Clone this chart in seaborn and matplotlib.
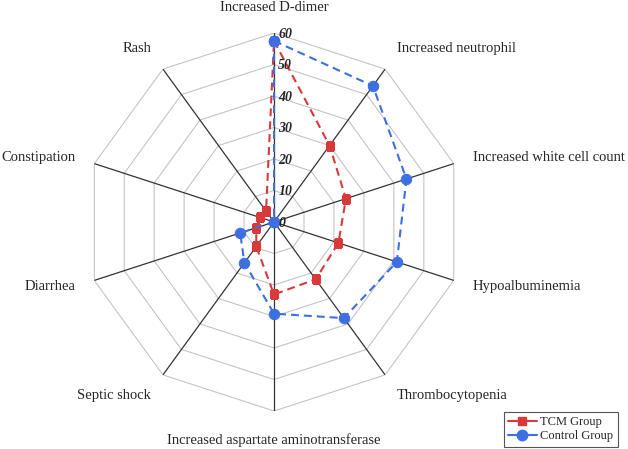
#!/usr/bin/env python3
# -*- coding: utf-8 -*-
"""
Radar chart: adverse findings, TCM group vs control group
"""

#%% Modulos
import numpy as np
import matplotlib
matplotlib.use("Agg")
import matplotlib.pyplot as plt
from matplotlib.lines import Line2D
import seaborn as sb

#%% Dados
categorias = ["Increased D-dimer", "Increased neutrophil",
              "Increased white cell count", "Hypoalbuminemia",
              "Thrombocytopenia", "Increased aspartate aminotransferase",
              "Septic shock", "Diarrhea", "Constipation", "Rash"]

tcm = [57.5, 30, 24, 21.5, 22.5, 23, 9.6, 5.9, 4.8, 4.3]
controle = [57.5, 53.4, 44.2, 41, 37.7, 29.1, 16, 11.3, 0, 0]

niveis = [0, 10, 20, 30, 40, 50, 60]
series = ["TCM Group", "Control Group"]

#%% Estilo
sb.set_style("white")
plt.rcParams['font.family'] = ['Liberation Serif', 'DejaVu Serif']

cor_tcm = "#d83a3a"
cor_ctl = "#3d6fe0"
tracejado = (0, (3.8, 2.4))

n = len(categorias)
ang = np.linspace(0, 2 * np.pi, n, endpoint=False)
ang_f = np.append(ang, 2 * np.pi)

fig = plt.figure(figsize=(6.28, 4.49), dpi=100)
ax = fig.add_axes([0.1354, 0.0846, 0.6019, 0.8419], projection="polar")
ax.set_theta_zero_location("N")
ax.set_theta_direction(-1)
ax.set_ylim(0, 60)
ax.grid(False)
ax.spines["polar"].set_visible(False)

#%% Grade poligonal e eixos radiais
for r in niveis[1:]:
    ax.plot(ang_f, [r] * (n + 1), color="#c4c4c4", lw=0.8, zorder=1)
for a in ang:
    ax.plot([a, a], [0, 60], color="#333333", lw=0.9, zorder=1.5)

#%% Series
sb.lineplot(x=ang_f, y=tcm + tcm[:1], ax=ax, sort=False,
            color=cor_tcm, linestyle=tracejado, lw=1.5,
            marker="s", markersize=5.5, markeredgecolor=cor_tcm, zorder=3)
sb.lineplot(x=ang_f, y=controle + controle[:1], ax=ax, sort=False,
            color=cor_ctl, linestyle=tracejado, lw=1.5,
            marker="o", markersize=7.5, markeredgecolor=cor_ctl, zorder=4)
ax.set_xlabel("")
ax.set_ylabel("")
ax.set_xticks([])
ax.set_yticks([])

#%% Rotulos da escala
for v in niveis:
    ax.annotate(str(v), xy=(0, v), xytext=(3, -1), textcoords="offset points",
                ha="left", va="center", fontsize=10,
                fontweight="bold", fontstyle="italic", zorder=5)

#%% Rotulos das categorias
for a, c in zip(ang, categorias):
    s, co = np.sin(a), np.cos(a)
    if abs(s) < 1e-6:
        ha = "center"
        r = 68 if co > 0 else 69.2
        dy = 0
    else:
        ha = "left" if s > 0 else "right"
        r = 66.3
        # rotulos a 36 graus ficam um pouco mais afastados na vertical
        dy = 3 * np.sign(co) if abs(co) > 0.5 else 0
    ax.annotate(c, xy=(a, r), xytext=(0, dy), textcoords="offset points",
                ha=ha, va="center", fontsize=10.5, annotation_clip=False)

#%% Legenda
handles = [Line2D([], [], color=cor_tcm, lw=1.5, marker="s", markersize=5.5),
           Line2D([], [], color=cor_ctl, lw=1.5, marker="o", markersize=7.5)]
leg = fig.legend(handles, series, loc="lower right",
                 bbox_to_anchor=(0.984, 0.005), bbox_transform=fig.transFigure,
                 fontsize=9, frameon=True, fancybox=False, framealpha=1,
                 edgecolor="#555555", handlelength=2.3, handletextpad=0.3,
                 borderpad=0.35, labelspacing=0.2, borderaxespad=0)
leg.get_frame().set_linewidth(0.8)

fig.savefig("out.png", dpi=100)
